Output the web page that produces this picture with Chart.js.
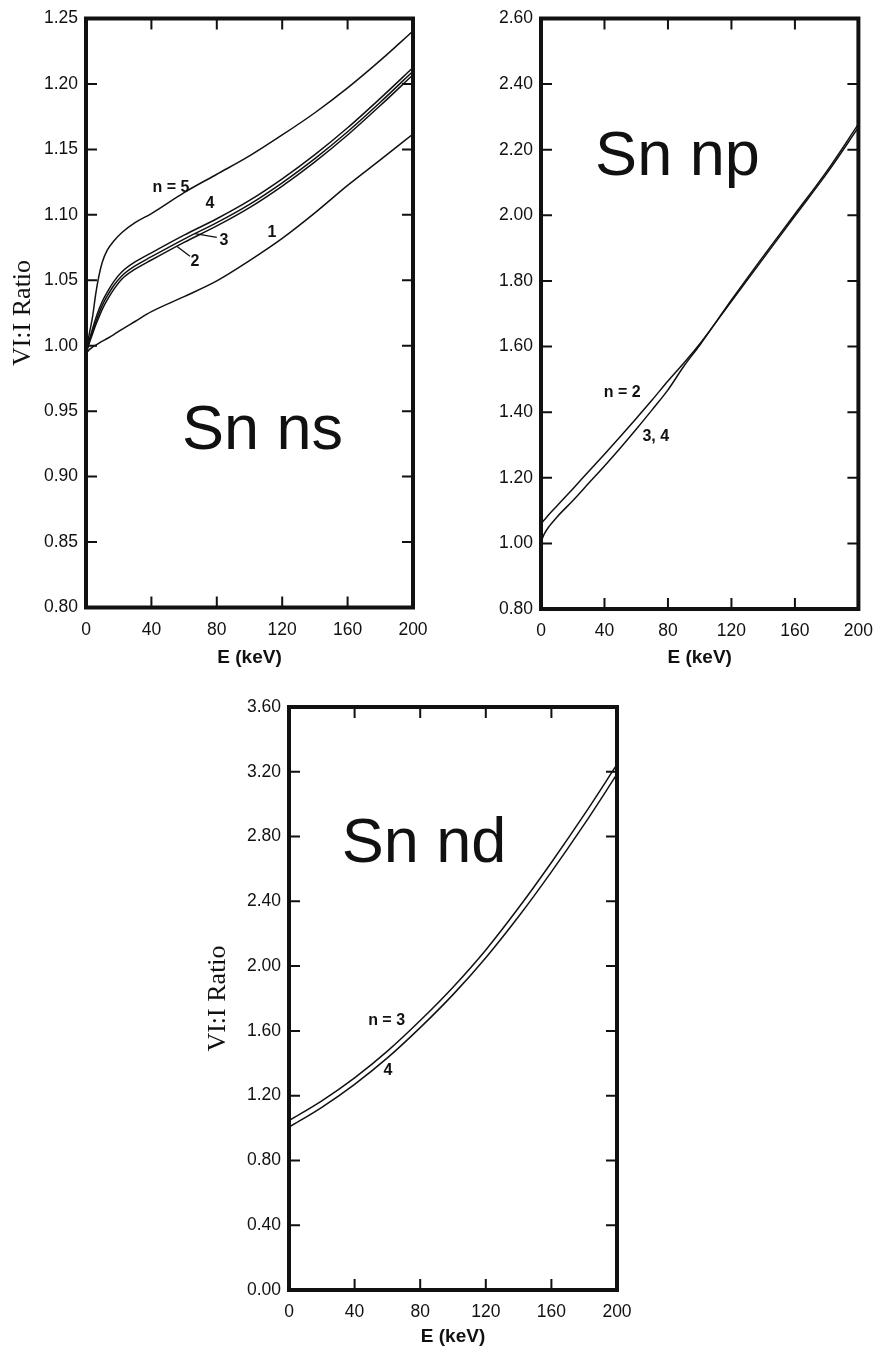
<!DOCTYPE html>
<html>
<head>
<meta charset="utf-8">
<script src="https://cdn.jsdelivr.net/npm/chart.js@4.4.1/dist/chart.umd.min.js"></script>
<style>
  body { margin: 0; background: #fff; width: 885px; height: 1348px; position: relative; overflow: hidden; }
  canvas { position: absolute; }
</style>
</head>
<body>
<canvas id="ns" width="440" height="680" style="left:0;top:0;width:440px;height:680px"></canvas>
<canvas id="np" width="445" height="680" style="left:440px;top:0;width:445px;height:680px"></canvas>
<canvas id="nd" width="500" height="668" style="left:190px;top:680px;width:500px;height:668px"></canvas>
<script>
// Sn ns : VI:I ratio vs electron energy, one curve per shell n
const nsEnergy = [0, 2, 4, 6, 8, 10, 13, 17, 22, 30, 40, 60, 80, 100, 120, 140, 160, 180, 200];
const nsN1 = [0.994, 0.997, 0.999, 1.0005, 1.002, 1.0035, 1.0055, 1.0085, 1.0125, 1.0185, 1.026, 1.0375, 1.0495, 1.065, 1.082, 1.1015, 1.1225, 1.142, 1.1617];
const nsN2 = [0.994, 1.002, 1.009, 1.016, 1.022, 1.028, 1.035, 1.043, 1.051, 1.0585, 1.0655, 1.079, 1.0915, 1.1055, 1.122, 1.1405, 1.161, 1.1835, 1.207];
const nsN3 = [0.994, 1.003, 1.011, 1.018, 1.025, 1.031, 1.038, 1.046, 1.0535, 1.061, 1.068, 1.0815, 1.094, 1.108, 1.1245, 1.143, 1.1635, 1.186, 1.2097];
const nsN4 = [0.994, 1.004, 1.013, 1.021, 1.028, 1.034, 1.041, 1.049, 1.0565, 1.064, 1.071, 1.0845, 1.097, 1.111, 1.1275, 1.146, 1.1665, 1.189, 1.2125];
const nsN5 = [0.994, 1.009, 1.022, 1.040, 1.054, 1.064, 1.073, 1.080, 1.0865, 1.094, 1.101, 1.117, 1.131, 1.145, 1.161, 1.178, 1.197, 1.218, 1.2405];

// Sn np
const npEnergy = [0, 2, 5, 10, 20, 30, 40, 50, 60, 70, 80, 90, 100, 120, 140, 160, 180, 200];
const npN2 = [1.060, 1.071, 1.088, 1.114, 1.166, 1.219, 1.272, 1.326, 1.381, 1.437, 1.495, 1.550, 1.608, 1.738, 1.868, 1.998, 2.127, 2.268];
const npN34 = [1.005, 1.028, 1.051, 1.080, 1.130, 1.183, 1.236, 1.291, 1.348, 1.407, 1.468, 1.540, 1.604, 1.742, 1.875, 2.004, 2.134, 2.278];

// Sn nd
const ndEnergy = [0, 20, 40, 60, 80, 100, 120, 140, 160, 180, 200];
const ndN3 = [1.046, 1.168, 1.310, 1.475, 1.664, 1.870, 2.100, 2.360, 2.640, 2.935, 3.245];
const ndN4 = [1.005, 1.128, 1.270, 1.433, 1.620, 1.824, 2.052, 2.306, 2.582, 2.875, 3.185];

const energyTicks = { min: 0, max: 200, step: 40 };

const SANS = '"Liberation Sans", Arial, Helvetica, sans-serif';
const SERIF = '"Liberation Serif", "Times New Roman", serif';
const INK = '#111';
const TICK_LEN = 11;

Chart.defaults.font.family = SANS;
Chart.defaults.color = INK;

const toPoints = (xs, ys) => xs.map((x, i) => ({ x, y: ys[i] }));

const curve = (xs, ys) => ({
  data: toPoints(xs, ys),
  borderColor: INK,
  borderWidth: 1.5,
  pointRadius: 0,
  fill: false,
  cubicInterpolationMode: 'monotone',
});

// heavy box round the plot, inward ticks on all four sides, notes inside
const framePlugin = {
  id: 'frame',
  afterDatasetsDraw(chart, args, opts) {
    const { ctx, chartArea: a, scales: { x, y } } = chart;
    ctx.save();
    ctx.strokeStyle = INK;
    ctx.fillStyle = INK;
    ctx.lineWidth = 2;
    ctx.beginPath();
    x.ticks.forEach((t) => {
      if (t.value <= x.min || t.value >= x.max) return;
      const px = x.getPixelForValue(t.value);
      ctx.moveTo(px, a.top); ctx.lineTo(px, a.top + TICK_LEN);
      ctx.moveTo(px, a.bottom); ctx.lineTo(px, a.bottom - TICK_LEN);
    });
    y.ticks.forEach((t) => {
      if (t.value <= y.min + 1e-9 || t.value >= y.max - 1e-9) return;
      const py = y.getPixelForValue(t.value);
      ctx.moveTo(a.left, py); ctx.lineTo(a.left + TICK_LEN, py);
      ctx.moveTo(a.right, py); ctx.lineTo(a.right - TICK_LEN, py);
    });
    ctx.stroke();

    ctx.lineWidth = 1.3;
    ctx.beginPath();
    (opts.leaders || []).forEach((l) => {
      ctx.moveTo(x.getPixelForValue(l.from[0]), y.getPixelForValue(l.from[1]));
      ctx.lineTo(x.getPixelForValue(l.to[0]), y.getPixelForValue(l.to[1]));
    });
    ctx.stroke();

    ctx.lineWidth = 4;
    ctx.strokeRect(a.left, a.top, a.width, a.height);

    (opts.notes || []).forEach((n) => {
      const big = n.big;
      ctx.font = big ? `63px ${SANS}` : `bold 16px ${SANS}`;
      ctx.textAlign = big ? 'left' : 'center';
      ctx.textBaseline = big ? 'alphabetic' : 'middle';
      ctx.fillText(n.text, x.getPixelForValue(n.e), y.getPixelForValue(n.r));
    });
    ctx.restore();
  },
};

function makePanel(id, datasets, box, yRange, withYTitle, frame) {
  new Chart(document.getElementById(id), {
    type: 'line',
    data: { datasets },
    plugins: [framePlugin],
    options: {
      responsive: false,
      animation: false,
      events: [],
      layout: { padding: box.padding },
      plugins: {
        legend: { display: false },
        tooltip: { enabled: false },
        frame,
      },
      scales: {
        x: {
          type: 'linear',
          min: energyTicks.min,
          max: energyTicks.max,
          grid: { display: false, drawTicks: false },
          border: { display: false },
          ticks: { stepSize: energyTicks.step, autoSkip: false, maxRotation: 0, padding: 12, font: { size: 17.5 }, color: INK },
          title: { display: true, text: 'E (keV)', padding: 0, font: { size: 19, weight: 'bold' }, color: INK },
          afterFit: (s) => { s.height = box.xHeight; },
        },
        y: {
          type: 'linear',
          min: yRange.min,
          max: yRange.max,
          grid: { display: false, drawTicks: false },
          border: { display: false },
          ticks: {
            stepSize: yRange.step,
            autoSkip: false,
            padding: 8,
            font: { size: 17.5 },
            color: INK,
            callback: (v) => Number(v).toFixed(2),
          },
          title: { display: withYTitle, text: 'VI:I Ratio', padding: 0, font: { size: 26, family: SERIF }, color: INK },
          afterFit: (s) => { s.width = box.yWidth; },
        },
      },
    },
  });
}

makePanel('ns',
  [curve(nsEnergy, nsN1), curve(nsEnergy, nsN2), curve(nsEnergy, nsN3), curve(nsEnergy, nsN4), curve(nsEnergy, nsN5)],
  { padding: { left: 7.7, top: 18, right: 27, bottom: 10.6 }, yWidth: 78.3, xHeight: 61.9 },
  { min: 0.8, max: 1.25, step: 0.05 },
  true,
  {
    notes: [
      { text: 'n = 5', e: 52, r: 1.121 },
      { text: '4', e: 75.8, r: 1.1088 },
      { text: '3', e: 84.4, r: 1.0805 },
      { text: '2', e: 66.7, r: 1.0645 },
      { text: '1', e: 113.8, r: 1.0866 },
      { text: 'Sn ns', e: 58.7, r: 0.921, big: true },
    ],
    leaders: [
      { from: [66.7, 1.0857], to: [80, 1.0828] },
      { from: [55.5, 1.076], to: [63.6, 1.0683] },
    ],
  });

makePanel('np',
  [curve(npEnergy, npN2), curve(npEnergy, npN34)],
  { padding: { left: 0, top: 18.5, right: 16, bottom: 10.6 }, yWidth: 101, xHeight: 60.4 },
  { min: 0.8, max: 2.6, step: 0.2 },
  false,
  {
    notes: [
      { text: 'n = 2', e: 51.2, r: 1.4594 },
      { text: '3, 4', e: 72.3, r: 1.3253 },
      { text: 'Sn np', e: 34.1, r: 2.123, big: true },
    ],
  });

makePanel('nd',
  [curve(ndEnergy, ndN3), curve(ndEnergy, ndN4)],
  { padding: { left: 12.4, top: 27, right: 73, bottom: 0 }, yWidth: 86.6, xHeight: 58 },
  { min: 0, max: 3.6, step: 0.4 },
  true,
  {
    notes: [
      { text: 'n = 3', e: 59.5, r: 1.663 },
      { text: '4', e: 60.4, r: 1.352 },
      { text: 'Sn nd', e: 32.1, r: 2.645, big: true },
    ],
  });
</script>
</body>
</html>
